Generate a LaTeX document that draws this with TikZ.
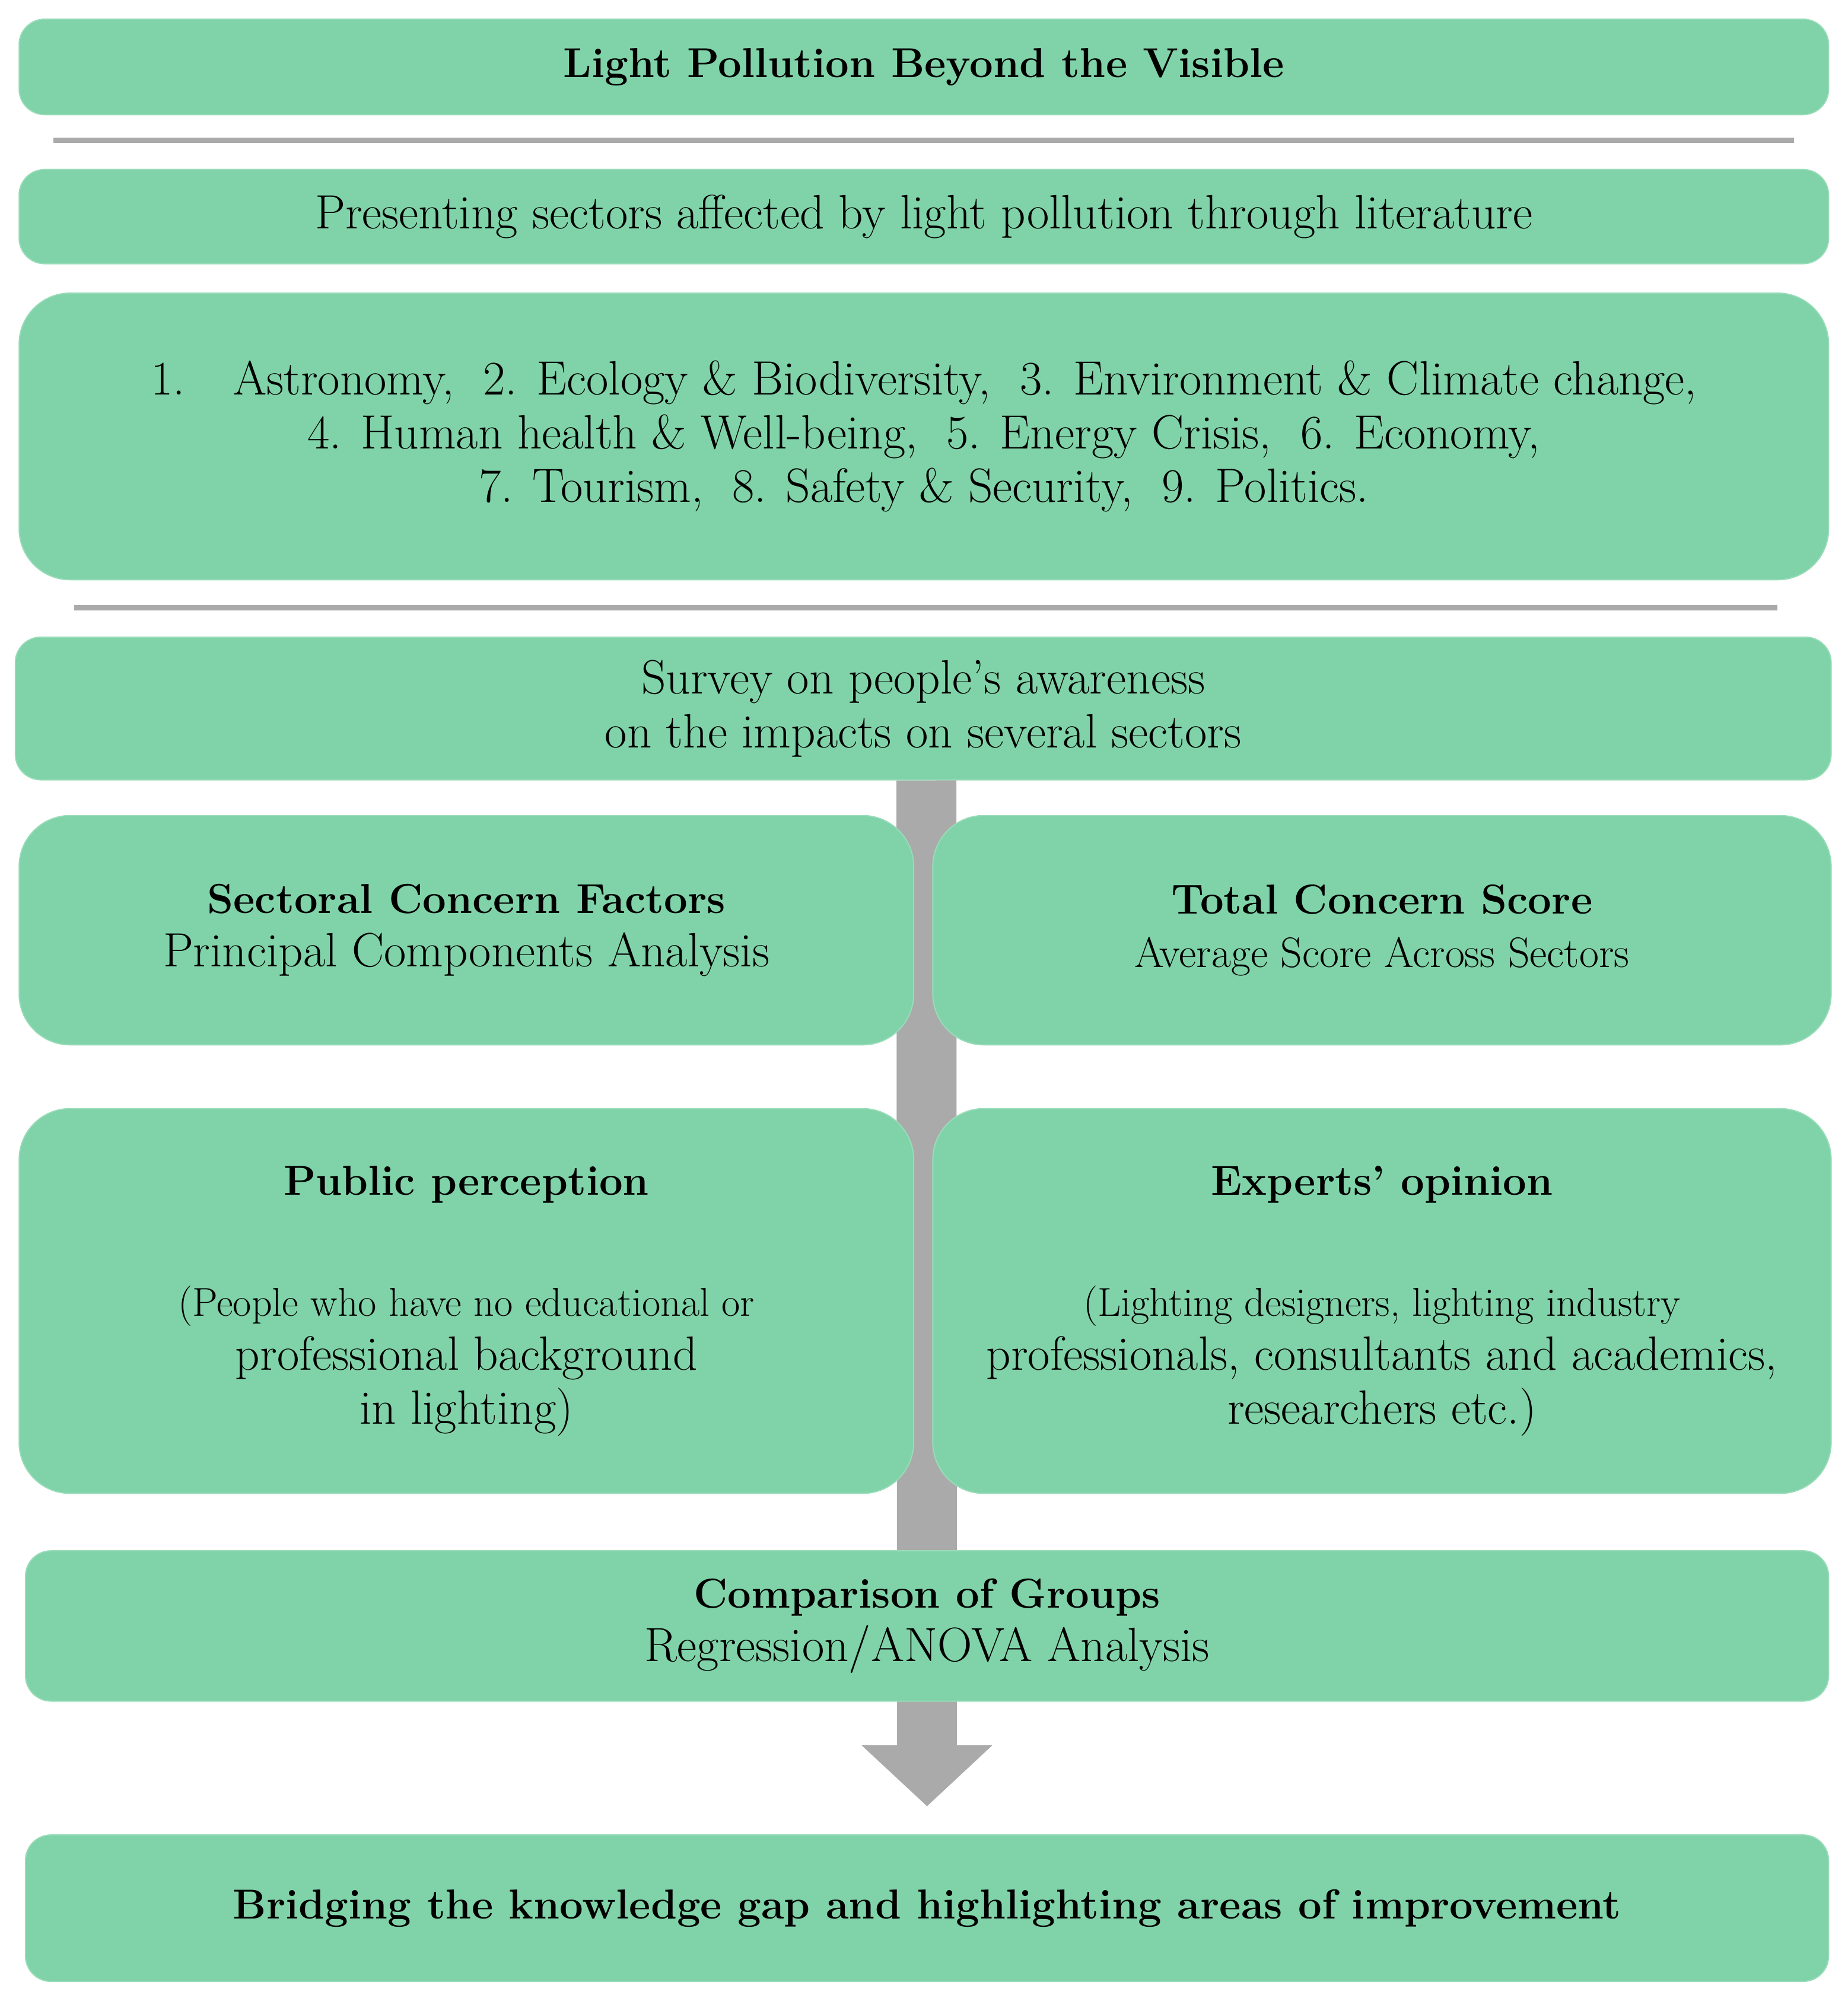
\documentclass[tikz,border=0pt]{standalone}
\usetikzlibrary{arrows.meta,calc}
\definecolor{mint}{RGB}{128,211,168}
\definecolor{bar}{RGB}{170,170,170}
\newcommand{\bfs}[1]{{\fontsize{18.7}{24}\selectfont\textbf{#1}}}
\begin{document}
\begin{tikzpicture}[x=0.02cm,y=-0.02cm,
  box/.style={fill=mint,draw=mint!80!white,line width=0.5pt,rounded corners=0.4cm,align=center,inner sep=0pt,font=\fontsize{21.5}{24}\selectfont},
  big/.style={box,rounded corners=0.8cm},
  sep/.style={draw=bar,line width=0.08cm}]
\useasboundingbox (0,0) rectangle (1450,1568);
\newcommand{\bx}[6]{\node[#1,minimum width=#4*0.02cm-#2*0.02cm,minimum height=#5*0.02cm-#3*0.02cm] (#6) at ({(#2+#4)/2},{(#3+#5)/2})}
\bx{box}{15}{15}{1435}{90}{title}{\bfs{Light Pollution Beyond the Visible}};
\draw[sep] (42,110) -- (1408,110);
\bx{box}{15}{133}{1435}{207}{pres}{Presenting sectors affected by light pollution through literature};
\bx{big}{15}{230}{1435}{455}{list}{1.\quad Astronomy,\ \ 2. Ecology \& Biodiversity,\ \ 3. Environment \& Climate change,\\4. Human health \& Well-being,\ \ 5. Energy Crisis,\ \ 6. Economy,\\7. Tourism,\ \ 8. Safety \& Security,\ \ 9. Politics.};
\draw[sep] (58,477) -- (1395,477);
\bx{box}{12}{500}{1437}{612}{survey}{Survey on people's awareness\\on the impacts on several sectors};
\bx{box}{20}{1440}{1435}{1555}{bridge}{\bfs{Bridging the knowledge gap and highlighting areas of improvement}};
\draw[bar,line width=0.94cm,-{Triangle[width=2cm,length=0.96cm]},shorten >=0.44cm] ($(survey.south)+(2.5,0)$) -- ($(bridge.north)+(0,0)$);
\bx{big}{15}{640}{717}{820}{sect}{\bfs{Sectoral Concern Factors}\\Principal Components Analysis};
\bx{big}{732}{640}{1437}{820}{total}{\bfs{Total Concern Score}\\\fontsize{19}{24}\selectfont Average Score Across Sectors};
\bx{big}{15}{870}{717}{1172}{public}{\bfs{Public perception}\\[1.4em]\fontsize{18}{18}\selectfont(People who have no educational or\\professional background\\in lighting)};
\bx{big}{732}{870}{1437}{1172}{expert}{\bfs{Experts' opinion}\\[1.4em]\fontsize{18}{18}\selectfont(Lighting designers, lighting industry\\professionals, consultants and academics,\\researchers etc.)};
\bx{box}{20}{1217}{1435}{1335}{comp}{\bfs{Comparison of Groups}\\Regression/ANOVA Analysis};
\end{tikzpicture}
\end{document}
